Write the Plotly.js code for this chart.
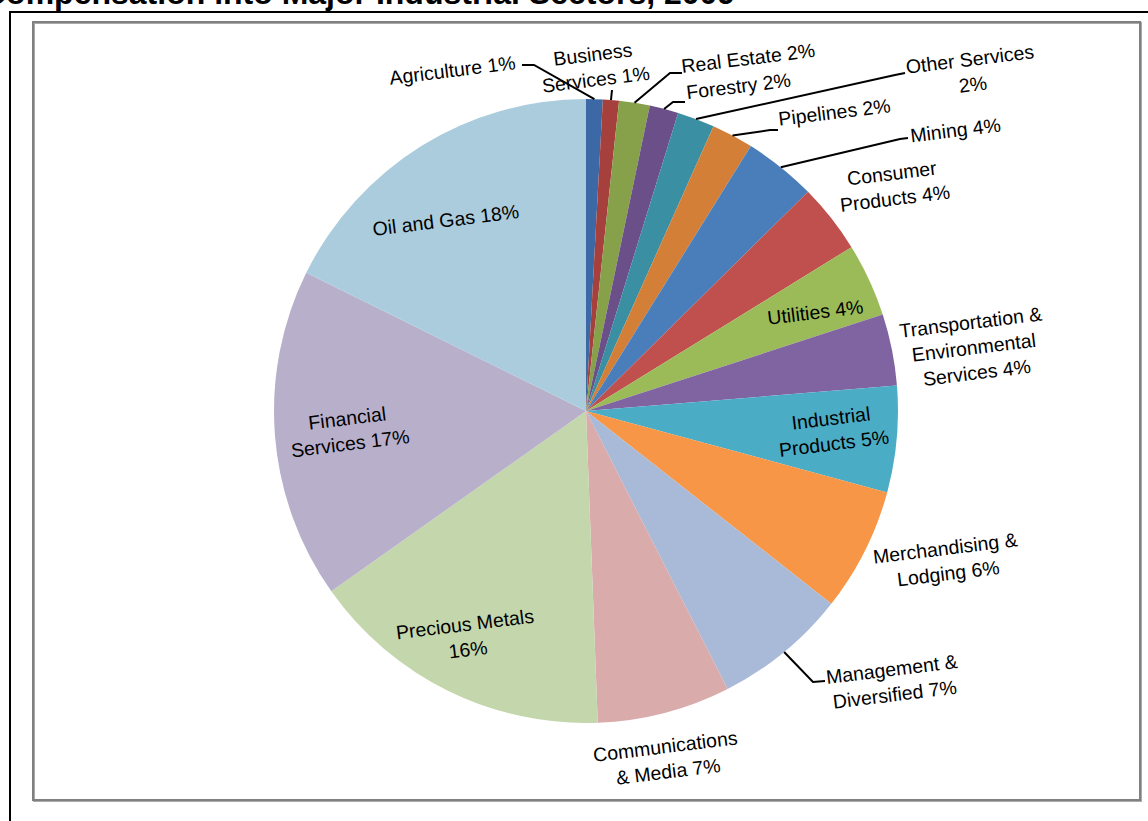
<!DOCTYPE html>
<html><head><meta charset="utf-8">
<script src="https://cdn.plot.ly/plotly-3.0.1.min.js"></script>
<style>html,body{margin:0;padding:0;background:#fff;overflow:hidden}#chart{width:1148px;height:821px}</style>
</head><body><div id="chart"></div>
<script>
// ---- data ----
const sectors = ["Agriculture","Business Services","Real Estate","Forestry","Other Services","Pipelines","Mining","Consumer Products","Utilities","Transportation & Environmental Services","Industrial Products","Merchandising & Lodging","Management & Diversified","Communications & Media","Precious Metals","Financial Services","Oil and Gas"];
const shares = [0.86,0.83,1.59,1.49,1.93,2.16,3.74,3.6,3.8,3.7,5.5,6.4,6.9,6.9,15.8,17.1,17.7];
const labelText = ["Agriculture 1%","Business<br>Services 1%","Real Estate 2%","Forestry 2%","Other Services<br>2%","Pipelines 2%","Mining 4%","Consumer<br>Products 4%","Utilities 4%","Transportation &<br>Environmental<br>Services 4%","Industrial<br>Products 5%","Merchandising &<br>Lodging 6%","Management &<br>Diversified 7%","Communications<br>& Media 7%","Precious Metals<br>16%","Financial<br>Services 17%","Oil and Gas 18%"];
const titleText = "Compensation into Major Industrial Sectors, 2009";

// ---- styling / layout ----
const colors = ["#3D68A6","#A5403D","#86A14A","#6A4F89","#3A8FA3","#D47F37","#4A7EBB","#C0504D","#9BBB59","#8064A2","#4BACC6","#F79646","#A9B9D8","#DAABAB","#C4D6AC","#B8AFCA","#AACCDC"];
const W = 1148, H = 821, CX = 586, CY = 411, R = 312;
const labelPos = [[452,70],[594,66],[748,58],[738,86],[971,72],[834,112],[955,130],[893,185],[815,312],[973,347],[832,430],[946,560],[893,681],[667,758],[466,636],[348,430],[446,220]];
// leader line bend points (pixels) for outside labels; start point computed from slice mid-angle
const leaders = {0:[[534,65],[522,65]],1:[[612,90]],2:[[670,73],[682,73]],3:[[673,102],[685,102]],4:[[895,75],[905,73]],5:[[770,130],[778,130]],6:[[900,139],[908,138]],12:[[813,682],[825,681]]};

const px = x => x / W, py = y => 1 - y / H;

const total = shares.reduce((a,b)=>a+b,0);
let cum = 0;
const mids = shares.map(v => { const m = (cum + v/2) / total * 2 * Math.PI; cum += v; return m; });

const annotations = labelText.map((t,i) => ({
  text: t, x: px(labelPos[i][0]), y: py(labelPos[i][1]), xref:'paper', yref:'paper',
  xanchor:'center', yanchor:'middle', showarrow:false, textangle:-7, align:'center',
  font:{family:'"Liberation Sans", Arial, sans-serif', size:19.5, color:'#000'}
}));
annotations.push({text:'<b>'+titleText+'</b>', x:px(737), y:py(-7), xref:'paper', yref:'paper',
  xanchor:'right', yanchor:'middle', showarrow:false,
  font:{family:'"Liberation Sans", Arial, sans-serif', size:32, color:'#000'}});

const shapes = [
  {type:'rect', xref:'paper', yref:'paper', x0:px(10), x1:px(1160), y0:py(12), y1:py(840), line:{color:'#000', width:2}},
  {type:'rect', xref:'paper', yref:'paper', x0:px(34), x1:px(1141), y0:py(23), y1:py(801), line:{color:'#aaa', width:2}},
  {type:'rect', xref:'paper', yref:'paper', x0:px(33), x1:px(1140), y0:py(22), y1:py(800), line:{color:'#808080', width:2}}
];
Object.keys(leaders).forEach(k => {
  const i = +k, a = mids[i];
  const pts = [[CX + R*Math.sin(a), CY - R*Math.cos(a)]].concat(leaders[k]);
  const d = pts.map((p,j)=>(j?'L':'M')+px(p[0])+','+py(p[1])).join(' ');
  shapes.push({type:'path', xref:'paper', yref:'paper', path:d, line:{color:'#000', width:2}});
});

const trace = {
  type:'pie', labels:sectors, values:shares, sort:false, direction:'clockwise', rotation:0,
  marker:{colors:colors, line:{width:0}}, textinfo:'none', hoverinfo:'label+percent',
  domain:{x:[px(CX-R), px(CX+R)], y:[py(CY+R), py(CY-R)]}
};

Plotly.newPlot('chart', [trace], {
  width:W, height:H, margin:{l:0,r:0,t:0,b:0}, showlegend:false,
  paper_bgcolor:'#fff', plot_bgcolor:'#fff', annotations:annotations, shapes:shapes
}, {displayModeBar:false, staticPlot:true});
</script>
</body></html>
